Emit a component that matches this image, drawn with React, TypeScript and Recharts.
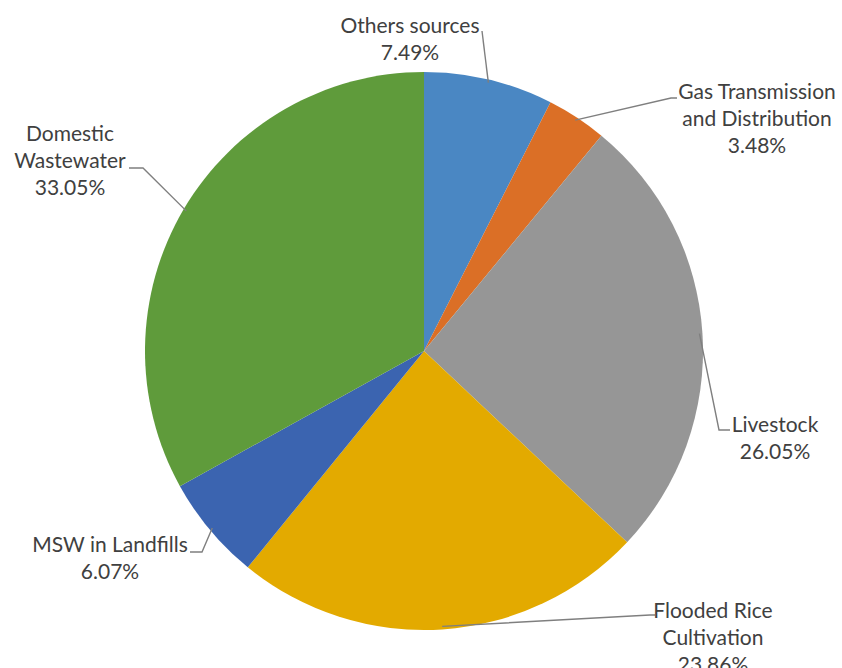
import { PieChart, Pie, Cell } from "recharts";

const categories = [
  "Others sources",
  "Gas Transmission and Distribution",
  "Livestock",
  "Flooded Rice Cultivation",
  "MSW in Landfills",
  "Domestic Wastewater",
];
const shares = [7.49, 3.48, 26.05, 23.86, 6.07, 33.05];
const labelLines = [
  ["Others sources"],
  ["Gas Transmission", "and Distribution"],
  ["Livestock"],
  ["Flooded Rice", "Cultivation"],
  ["MSW in Landfills"],
  ["Domestic", "Wastewater"],
];
const colors = ["#4a87c3", "#db6f26", "#969696", "#e3aa00", "#3b64b0", "#5f9b3b"];

// label placement relative to the pie centre: leader bends, text centre x, first baseline y
const labelLayout = [
  { path: [[58, -320]], tx: -14, ty: -318 },
  { path: [[247, -253], [253, -253]], tx: 333, ty: -252 },
  { path: [[295, 79], [306, 79]], tx: 351, ty: 81 },
  { path: [[226, 264], [231, 264]], tx: 289, ty: 267 },
  { path: [[-222, 201], [-234, 201]], tx: -314, ty: 201 },
  { path: [[-281, -183], [-295, -183]], tx: -354, ty: -210 },
];

const data = categories.map((name, i) => ({ name, value: shares[i] }));

const RADIAN = Math.PI / 180;
const LINE_H = 27;

function renderLabel(props: any) {
  const { cx, cy, midAngle, outerRadius, index, value } = props;
  const lay = labelLayout[index];
  // start the leader a little inside the slice edge
  const r = outerRadius - 3;
  const ax = cx + r * Math.cos(-midAngle * RADIAN);
  const ay = cy + r * Math.sin(-midAngle * RADIAN);
  const pts = [[ax, ay], ...lay.path.map(([dx, dy]) => [cx + dx, cy + dy])]
    .map((p) => p.join(","))
    .join(" ");
  const lines = [...labelLines[index], `${value.toFixed(2)}%`];
  return (
    <g key={`lbl-${index}`}>
      <polyline points={pts} fill="none" stroke="#7f7f7f" strokeWidth={1.4} />
      <text
        x={cx + lay.tx}
        y={cy + lay.ty}
        textAnchor="middle"
        fill="#404040"
        fontSize={21}
        fontFamily="Lato, 'Open Sans', sans-serif"
      >
        {lines.map((t, i) => (
          <tspan key={i} x={cx + lay.tx} dy={i === 0 ? 0 : LINE_H}>
            {t}
          </tspan>
        ))}
      </text>
    </g>
  );
}

export default function App() {
  return (
    <div style={{ position: "absolute", left: 0, top: 0, width: 842, height: 668, background: "#fff" }}>
      <PieChart width={842} height={668} margin={{ top: 0, right: 0, bottom: 0, left: 0 }}>
        <Pie
          data={data}
          dataKey="value"
          nameKey="name"
          cx={424}
          cy={351}
          outerRadius={279}
          startAngle={90}
          endAngle={-270}
          stroke="none"
          labelLine={false}
          label={renderLabel}
          isAnimationActive={false}
        >
          {data.map((d, i) => (
            <Cell key={d.name} fill={colors[i]} />
          ))}
        </Pie>
      </PieChart>
    </div>
  );
}
